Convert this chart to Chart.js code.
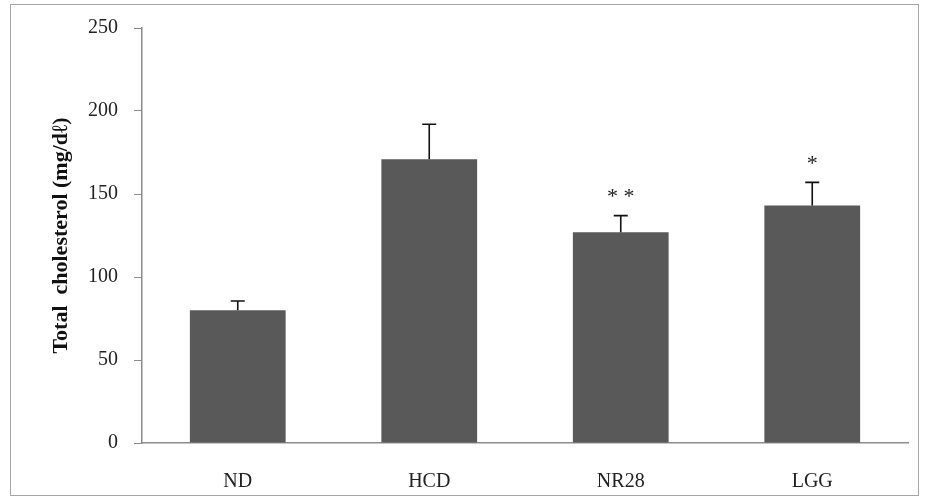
<!DOCTYPE html>
<html>
<head>
<meta charset="utf-8">
<script src="https://cdn.jsdelivr.net/npm/chart.js@4/dist/chart.umd.min.js"></script>
<style>
  html, body { margin: 0; padding: 0; background: #fff; }
  #wrap { position: relative; width: 926px; height: 498px; }
  #frame { position: absolute; left: 10px; top: 4px; width: 907px; height: 490px; border: 1px solid #a6a6a6; pointer-events: none; }
</style>
</head>
<body>
<div id="wrap">
  <canvas id="chart" width="926" height="498"></canvas>
  <div id="frame"></div>
</div>
<script>
// data
const categories = ['ND', 'HCD', 'NR28', 'LGG'];
const means = [80, 171, 127, 143];
const errors = [5.5, 21, 10, 14];
const marks = ['', '', '**', '*'];
const yMin = 0;
const yMax = 250;
const yStep = 50;

const serif = '"Liberation Serif", "Times New Roman", serif';

// upward-only error bars plus significance stars
const errorBars = {
    id: 'errorBars',
    afterDatasetsDraw(chart) {
        const ctx = chart.ctx;
        const yScale = chart.scales.y;
        const meta = chart.getDatasetMeta(0);
        ctx.save();
        ctx.strokeStyle = '#111';
        ctx.lineWidth = 1.6;
        meta.data.forEach((bar, i) => {
            const x = bar.x;
            const yTop = yScale.getPixelForValue(means[i] + errors[i]);
            const yBase = yScale.getPixelForValue(means[i]);
            ctx.beginPath();
            ctx.moveTo(x, yBase);
            ctx.lineTo(x, yTop);
            ctx.moveTo(x - 7, yTop);
            ctx.lineTo(x + 7, yTop);
            ctx.stroke();
            if (marks[i]) {
                ctx.fillStyle = '#222';
                ctx.font = '22px ' + serif;
                ctx.textAlign = 'center';
                ctx.textBaseline = 'middle';
                ctx.fillText(marks[i].split('').join(' '), x, yTop - 18);
            }
        });
        ctx.restore();
    }
};

new Chart(document.getElementById('chart'), {
    type: 'bar',
    data: {
        labels: categories,
        datasets: [{
            data: means,
            backgroundColor: '#595959',
            borderWidth: 0,
            barPercentage: 0.5,
            categoryPercentage: 1
        }]
    },
    options: {
        responsive: false,
        animation: false,
        layout: { padding: { top: 28, right: 18, left: 0, bottom: 0 } },
        plugins: { legend: { display: false }, tooltip: { enabled: false } },
        scales: {
            x: {
                grid: { display: false, drawTicks: false },
                border: { color: '#8c8c8c', width: 1.5 },
                ticks: { color: '#222', font: { family: serif, size: 20 }, padding: 27 },
                afterFit(scale) { scale.height = 55; }
            },
            y: {
                min: yMin,
                max: yMax,
                grid: { drawOnChartArea: false, drawTicks: true, tickLength: 8, color: '#8c8c8c' },
                border: { color: '#8c8c8c', width: 1.5 },
                ticks: { stepSize: yStep, color: '#222', font: { family: serif, size: 20 }, padding: 16 },
                title: {
                    display: true,
                    text: 'Total  cholesterol (mg/dℓ)',
                    color: '#111',
                    font: { family: serif, size: 22, weight: 'bold' },
                    padding: { top: 48, bottom: 0 }
                },
                afterFit(scale) { scale.width = 142; }
            }
        }
    },
    plugins: [errorBars]
});
</script>
</body>
</html>
